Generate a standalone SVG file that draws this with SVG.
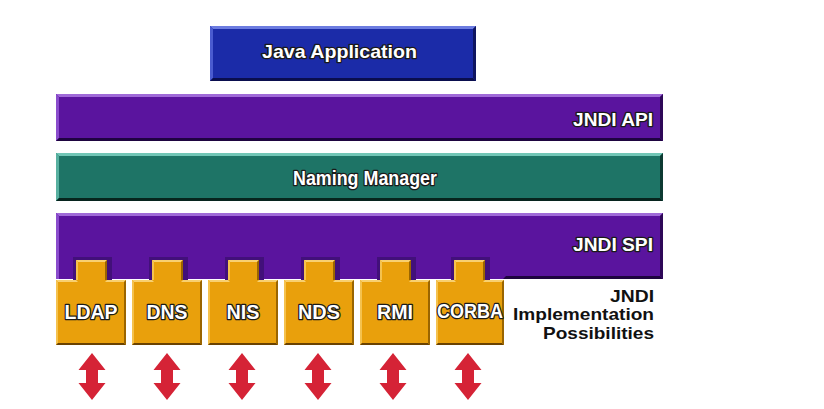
<svg xmlns="http://www.w3.org/2000/svg" xmlns:xlink="http://www.w3.org/1999/xlink" width="824" height="409" viewBox="0 0 824 409">
<defs>
<style>
.lbl{font-family:"Liberation Sans",Arial,sans-serif;font-weight:bold;fill:#fff;stroke:#1a1a1a;stroke-width:2.6;stroke-linejoin:round;paint-order:stroke}
.side{font-family:"Liberation Sans",Arial,sans-serif;font-weight:bold;fill:#111;font-size:16.5px}
.arrow{fill:#D52336}
</style>
<path id="dbl" d="M0,0 L13.5,17 L6,17 L6,30 L13.5,30 L0,47 L-13.5,30 L-6,30 L-6,17 L-13.5,17 Z"/>
<g id="tabbox">
<rect x="-4" y="-23" width="39" height="23" fill="#42107A"/>
<rect x="-1" y="-20" width="31" height="21" fill="#E9A00C"/>
<polygon points="-1,-20 30,-20 28,-18 1,-18" fill="#F8D070"/>
<polygon points="-1,-20 1,-18 1,0 -1,0" fill="#F5C24E"/>
<polygon points="30,-20 30,0 28,0 28,-18" fill="#9A6500"/>
</g>
</defs>
<rect x="0" y="0" width="824" height="409" fill="#fff"/>

<g id="java-application">
<rect x="210" y="26" width="266" height="55" fill="#1B2BA8"/>
<polygon points="210,26 476,26 473,29 213,29" fill="#6C7CE0"/>
<polygon points="210,26 213,29 213,78 210,81" fill="#4A5BD0"/>
<polygon points="210,81 213,78 473,78 476,81" fill="#0A0E4E"/>
<polygon points="476,26 476,81 473,78 473,29" fill="#0E1560"/>
<text class="lbl" x="339.5" y="58" font-size="18.5" text-anchor="middle" textLength="155" lengthAdjust="spacingAndGlyphs">Java Application</text>
</g>

<g id="jndi-api">
<rect x="56" y="94" width="607" height="47" fill="#5A149E"/>
<polygon points="56,94 663,94 660,97 59,97" fill="#A06AD8"/>
<polygon points="56,94 59,97 59,138 56,141" fill="#8A4CCC"/>
<polygon points="56,141 59,138 660,138 663,141" fill="#1E0440"/>
<polygon points="663,94 663,141 660,138 660,97" fill="#2E0858"/>
<text class="lbl" x="653" y="126" font-size="18" text-anchor="end" textLength="80" lengthAdjust="spacingAndGlyphs">JNDI API</text>
</g>

<g id="naming-manager">
<rect x="56" y="153" width="607" height="48" fill="#1E7466"/>
<polygon points="56,153 663,153 660,156 59,156" fill="#72C6B6"/>
<polygon points="56,153 59,156 59,198 56,201" fill="#58B0A0"/>
<polygon points="56,201 59,198 660,198 663,201" fill="#07241E"/>
<polygon points="663,153 663,201 660,198 660,156" fill="#0D3A32"/>
<text class="lbl" x="365" y="185" font-size="20" text-anchor="middle" textLength="144" lengthAdjust="spacingAndGlyphs">Naming Manager</text>
</g>

<g id="jndi-spi">
<rect x="56" y="213" width="607" height="66" fill="#5A149E"/>
<polygon points="56,213 663,213 660,216 59,216" fill="#A06AD8"/>
<polygon points="56,213 59,216 59,279 56,279" fill="#8A4CCC"/>
<polygon points="503,279 506,276 660,276 663,279" fill="#1E0440"/>
<polygon points="663,213 663,279 660,276 660,216" fill="#2E0858"/>
<text class="lbl" x="653" y="251" font-size="18" text-anchor="end" textLength="80" lengthAdjust="spacingAndGlyphs">JNDI SPI</text>
</g>

<g id="ldap">
<use xlink:href="#tabbox" x="77" y="280"/>
<rect x="56" y="280" width="70" height="65" fill="#E9A00C"/>
<polygon points="56,280 76,280 78,282 58,282" fill="#F8D070"/>
<polygon points="107,280 126,280 124,282 105,282" fill="#F8D070"/>
<polygon points="56,280 58,282 58,343 56,345" fill="#F5C24E"/>
<polygon points="56,345 58,343 124,343 126,345" fill="#6A4200"/>
<polygon points="126,280 126,345 124,343 124,282" fill="#9A6500"/>
<text class="lbl" x="91" y="319" font-size="20" text-anchor="middle" textLength="53" lengthAdjust="spacingAndGlyphs">LDAP</text>
</g>
<g id="dns">
<use xlink:href="#tabbox" x="153" y="280"/>
<rect x="132" y="280" width="70" height="65" fill="#E9A00C"/>
<polygon points="132,280 152,280 154,282 134,282" fill="#F8D070"/>
<polygon points="183,280 202,280 200,282 181,282" fill="#F8D070"/>
<polygon points="132,280 134,282 134,343 132,345" fill="#F5C24E"/>
<polygon points="132,345 134,343 200,343 202,345" fill="#6A4200"/>
<polygon points="202,280 202,345 200,343 200,282" fill="#9A6500"/>
<text class="lbl" x="167" y="319" font-size="20" text-anchor="middle" textLength="41" lengthAdjust="spacingAndGlyphs">DNS</text>
</g>
<g id="nis">
<use xlink:href="#tabbox" x="229" y="280"/>
<rect x="208" y="280" width="70" height="65" fill="#E9A00C"/>
<polygon points="208,280 228,280 230,282 210,282" fill="#F8D070"/>
<polygon points="259,280 278,280 276,282 257,282" fill="#F8D070"/>
<polygon points="208,280 210,282 210,343 208,345" fill="#F5C24E"/>
<polygon points="208,345 210,343 276,343 278,345" fill="#6A4200"/>
<polygon points="278,280 278,345 276,343 276,282" fill="#9A6500"/>
<text class="lbl" x="243" y="319" font-size="20" text-anchor="middle" textLength="33" lengthAdjust="spacingAndGlyphs">NIS</text>
</g>
<g id="nds">
<use xlink:href="#tabbox" x="305" y="280"/>
<rect x="284" y="280" width="70" height="65" fill="#E9A00C"/>
<polygon points="284,280 304,280 306,282 286,282" fill="#F8D070"/>
<polygon points="335,280 354,280 352,282 333,282" fill="#F8D070"/>
<polygon points="284,280 286,282 286,343 284,345" fill="#F5C24E"/>
<polygon points="284,345 286,343 352,343 354,345" fill="#6A4200"/>
<polygon points="354,280 354,345 352,343 352,282" fill="#9A6500"/>
<text class="lbl" x="319" y="319" font-size="20" text-anchor="middle" textLength="42" lengthAdjust="spacingAndGlyphs">NDS</text>
</g>
<g id="rmi">
<use xlink:href="#tabbox" x="381" y="280"/>
<rect x="360" y="280" width="70" height="65" fill="#E9A00C"/>
<polygon points="360,280 380,280 382,282 362,282" fill="#F8D070"/>
<polygon points="411,280 430,280 428,282 409,282" fill="#F8D070"/>
<polygon points="360,280 362,282 362,343 360,345" fill="#F5C24E"/>
<polygon points="360,345 362,343 428,343 430,345" fill="#6A4200"/>
<polygon points="430,280 430,345 428,343 428,282" fill="#9A6500"/>
<text class="lbl" x="395" y="319" font-size="20" text-anchor="middle" textLength="36" lengthAdjust="spacingAndGlyphs">RMI</text>
</g>
<g id="corba">
<use xlink:href="#tabbox" x="455" y="280"/>
<rect x="436" y="280" width="68" height="65" fill="#E9A00C"/>
<polygon points="436,280 454,280 456,282 438,282" fill="#F8D070"/>
<polygon points="485,280 504,280 502,282 483,282" fill="#F8D070"/>
<polygon points="436,280 438,282 438,343 436,345" fill="#F5C24E"/>
<polygon points="436,345 438,343 502,343 504,345" fill="#6A4200"/>
<polygon points="504,280 504,345 502,343 502,282" fill="#9A6500"/>
<text class="lbl" x="470" y="318" font-size="20" text-anchor="middle" textLength="66" lengthAdjust="spacingAndGlyphs">CORBA</text>
</g>

<g id="implementation-label">
<text class="side" x="654" y="302" text-anchor="end" textLength="44" lengthAdjust="spacingAndGlyphs">JNDI</text>
<text class="side" x="654" y="320" text-anchor="end" textLength="141" lengthAdjust="spacingAndGlyphs">Implementation</text>
<text class="side" x="654" y="339" text-anchor="end" textLength="111" lengthAdjust="spacingAndGlyphs">Possibilities</text>
</g>

<g id="connectors">
<use class="arrow" xlink:href="#dbl" x="92" y="353"/>
<use class="arrow" xlink:href="#dbl" x="167" y="353"/>
<use class="arrow" xlink:href="#dbl" x="242" y="353"/>
<use class="arrow" xlink:href="#dbl" x="318" y="353"/>
<use class="arrow" xlink:href="#dbl" x="393" y="353"/>
<use class="arrow" xlink:href="#dbl" x="468" y="353"/>
</g>
</svg>
